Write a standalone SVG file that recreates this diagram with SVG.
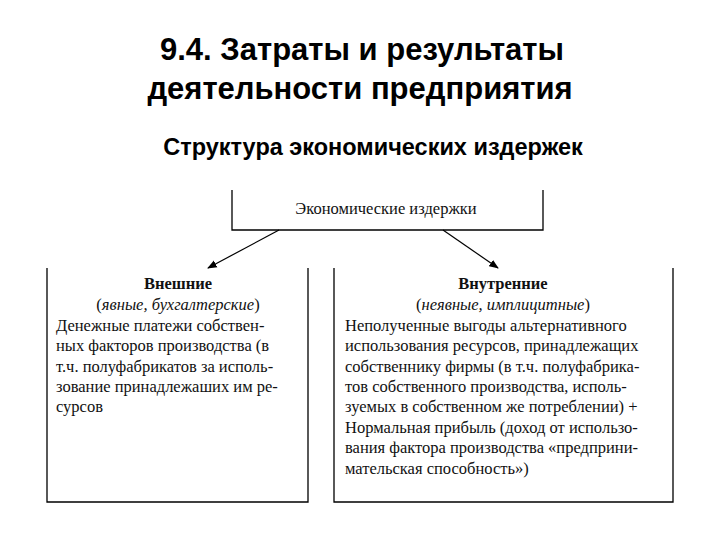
<svg xmlns="http://www.w3.org/2000/svg" width="720" height="540" viewBox="0 0 720 540">
<style>
.t{font-family:'Liberation Sans',Arial,sans-serif;fill:#000}
.s{font-family:'Liberation Serif','DejaVu Serif',serif;font-size:16.5px;fill:#111}
.b{fill:none;stroke:#000;stroke-width:1.3}
</style>
<defs><marker id="ah" viewBox="0 0 10 10" refX="9" refY="5" markerWidth="8" markerHeight="8" orient="auto"><path d="M0,1 L10,5 L0,9 z" fill="#000"/></marker></defs>
<rect width="720" height="540" fill="#fff"/>
<text class="t" x="362" y="60" font-size="31" font-weight="bold" text-anchor="middle">9.4. Затраты и результаты</text>
<text class="t" x="360" y="99" font-size="31" font-weight="bold" text-anchor="middle">деятельности предприятия</text>
<text class="t" x="373" y="155" font-size="23.5" font-weight="bold" text-anchor="middle">Структура экономических издержек</text>
<g id="top"><path class="b" d="M232,190 V230 H543 V190"/><text class="s" x="386" y="214" text-anchor="middle">Экономические издержки</text></g>
<g id="left"><path class="b" d="M47,268 V502 H308 V268"/>
<text class="s" x="178" y="289" text-anchor="middle" font-weight="bold">Внешние</text>
<text class="s" x="178" y="310" text-anchor="middle">(<tspan font-style="italic">явные, бухгалтерские</tspan>)</text>
<text class="s" x="56" y="331">Денежные платежи собствен-</text>
<text class="s" x="56" y="351">ных факторов производства (в</text>
<text class="s" x="56" y="372">т.ч. полуфабрикатов за исполь-</text>
<text class="s" x="56" y="392">зование принадлежаших им ре-</text>
<text class="s" x="56" y="412">сурсов</text></g>
<g id="right"><path class="b" d="M334,268 V502 H673 V268"/>
<text class="s" x="503" y="289" text-anchor="middle" font-weight="bold">Внутренние</text>
<text class="s" x="503" y="310" text-anchor="middle">(<tspan font-style="italic">неявные, имплицитные</tspan>)</text>
<text class="s" x="345" y="331">Неполученные выгоды альтернативного</text>
<text class="s" x="345" y="351">использования ресурсов, принадлежащих</text>
<text class="s" x="345" y="372">собственнику фирмы (в т.ч. полуфабрика-</text>
<text class="s" x="345" y="392">тов собственного производства, исполь-</text>
<text class="s" x="345" y="412">зуемых в собственном же потреблении) +</text>
<text class="s" x="345" y="433">Нормальная прибыль (доход от использо-</text>
<text class="s" x="345" y="453">вания фактора производства «предприни-</text>
<text class="s" x="345" y="474">мательская способность»)</text></g>
<g id="connectors" stroke="#000" stroke-width="1.2">
<line x1="279" y1="230" x2="208" y2="268" marker-end="url(#ah)"/>
<line x1="443" y1="230" x2="498" y2="268" marker-end="url(#ah)"/>
</g>
</svg>
